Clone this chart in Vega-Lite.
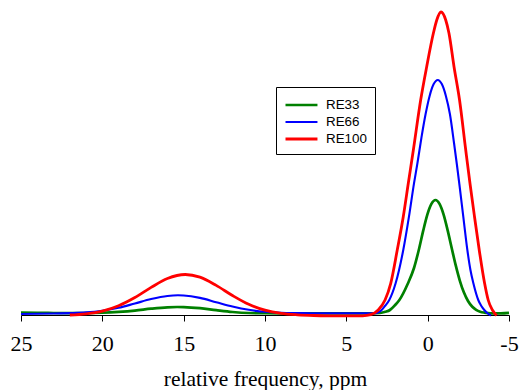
{
  "$schema": "https://vega.github.io/schema/vega-lite/v6.json",
  "width": 488,
  "height": 315,
  "autosize": "none",
  "padding": {"left": 21, "top": 0, "right": 10, "bottom": 75},
  "background": "white",
  "config": {"view": {"stroke": null}},
  "data": {"values": [
    {"s":"RE33","ppm":25,"h":2.3},{"s":"RE33","ppm":24,"h":2.1},{"s":"RE33","ppm":23,"h":2.0},{"s":"RE33","ppm":22,"h":1.9},{"s":"RE33","ppm":21,"h":1.9},{"s":"RE33","ppm":20,"h":2.25},{"s":"RE33","ppm":19,"h":3.1},{"s":"RE33","ppm":18,"h":4.4},{"s":"RE33","ppm":17,"h":6.3},{"s":"RE33","ppm":16,"h":7.7},{"s":"RE33","ppm":15.4,"h":8.0},{"s":"RE33","ppm":15,"h":7.9},{"s":"RE33","ppm":14,"h":6.8},{"s":"RE33","ppm":13,"h":4.8},{"s":"RE33","ppm":12,"h":3.0},{"s":"RE33","ppm":11,"h":2.0},{"s":"RE33","ppm":10,"h":1.8},{"s":"RE33","ppm":9,"h":1.7},{"s":"RE33","ppm":8,"h":1.7},{"s":"RE33","ppm":7,"h":1.7},{"s":"RE33","ppm":6,"h":1.7},{"s":"RE33","ppm":5,"h":1.7},{"s":"RE33","ppm":4,"h":1.7},{"s":"RE33","ppm":3.5,"h":1.6},{"s":"RE33","ppm":2.93,"h":2.0},{"s":"RE33","ppm":2.6,"h":3.2},{"s":"RE33","ppm":2.32,"h":5},{"s":"RE33","ppm":2.0,"h":10},{"s":"RE33","ppm":1.74,"h":15},{"s":"RE33","ppm":1.23,"h":31},{"s":"RE33","ppm":0.84,"h":47},{"s":"RE33","ppm":0.52,"h":66.8},{"s":"RE33","ppm":0.27,"h":84.6},{"s":"RE33","ppm":0.02,"h":100.4},{"s":"RE33","ppm":-0.23,"h":111.1},{"s":"RE33","ppm":-0.48,"h":115},{"s":"RE33","ppm":-0.73,"h":111.1},{"s":"RE33","ppm":-0.98,"h":100.4},{"s":"RE33","ppm":-1.23,"h":84.6},{"s":"RE33","ppm":-1.48,"h":66.8},{"s":"RE33","ppm":-1.73,"h":49.3},{"s":"RE33","ppm":-1.98,"h":34.2},{"s":"RE33","ppm":-2.23,"h":22.4},{"s":"RE33","ppm":-2.48,"h":14.0},{"s":"RE33","ppm":-2.73,"h":8.5},{"s":"RE33","ppm":-2.98,"h":5.2},{"s":"RE33","ppm":-3.23,"h":3.3},{"s":"RE33","ppm":-3.48,"h":2.4},{"s":"RE33","ppm":-3.73,"h":1.9},{"s":"RE33","ppm":-4.0,"h":1.7},{"s":"RE33","ppm":-4.5,"h":1.7},{"s":"RE33","ppm":-5,"h":2.2},
    {"s":"RE66","ppm":25,"h":1.0},{"s":"RE66","ppm":24,"h":1.2},{"s":"RE66","ppm":23,"h":1.5},{"s":"RE66","ppm":22,"h":1.9},{"s":"RE66","ppm":21,"h":2.6},{"s":"RE66","ppm":20,"h":4.3},{"s":"RE66","ppm":19,"h":7.2},{"s":"RE66","ppm":18,"h":11.5},{"s":"RE66","ppm":17,"h":15.9},{"s":"RE66","ppm":16,"h":19.0},{"s":"RE66","ppm":15.35,"h":19.7},{"s":"RE66","ppm":15,"h":19.5},{"s":"RE66","ppm":14,"h":17.1},{"s":"RE66","ppm":13,"h":12.8},{"s":"RE66","ppm":12,"h":8.5},{"s":"RE66","ppm":11,"h":5.2},{"s":"RE66","ppm":10,"h":3.2},{"s":"RE66","ppm":9,"h":2.2},{"s":"RE66","ppm":8,"h":1.9},{"s":"RE66","ppm":7,"h":1.7},{"s":"RE66","ppm":6,"h":1.7},{"s":"RE66","ppm":5,"h":1.7},{"s":"RE66","ppm":4,"h":1.7},{"s":"RE66","ppm":3.5,"h":1.8},{"s":"RE66","ppm":3.24,"h":1.8},{"s":"RE66","ppm":3.0,"h":3.0},{"s":"RE66","ppm":2.83,"h":5},{"s":"RE66","ppm":2.6,"h":9.5},{"s":"RE66","ppm":2.36,"h":15},{"s":"RE66","ppm":1.97,"h":31.7},{"s":"RE66","ppm":1.5,"h":65},{"s":"RE66","ppm":1.15,"h":98.3},{"s":"RE66","ppm":0.84,"h":131.7},{"s":"RE66","ppm":0.63,"h":151.7},{"s":"RE66","ppm":0.38,"h":177.6},{"s":"RE66","ppm":0.13,"h":200.7},{"s":"RE66","ppm":-0.12,"h":219.1},{"s":"RE66","ppm":-0.37,"h":230.9},{"s":"RE66","ppm":-0.62,"h":235},{"s":"RE66","ppm":-0.87,"h":230.9},{"s":"RE66","ppm":-1.12,"h":219.1},{"s":"RE66","ppm":-1.37,"h":200.7},{"s":"RE66","ppm":-1.62,"h":172},{"s":"RE66","ppm":-1.8,"h":150},{"s":"RE66","ppm":-1.97,"h":128},{"s":"RE66","ppm":-2.19,"h":98.3},{"s":"RE66","ppm":-2.44,"h":65},{"s":"RE66","ppm":-2.63,"h":45},{"s":"RE66","ppm":-2.81,"h":31.7},{"s":"RE66","ppm":-3.11,"h":15},{"s":"RE66","ppm":-3.3,"h":9},{"s":"RE66","ppm":-3.48,"h":5},{"s":"RE66","ppm":-3.7,"h":1.5},{"s":"RE66","ppm":-3.89,"h":-0.5},
    {"s":"RE100","ppm":22,"h":0},{"s":"RE100","ppm":21,"h":1.2},{"s":"RE100","ppm":20,"h":3.9},{"s":"RE100","ppm":19,"h":9.3},{"s":"RE100","ppm":18,"h":17.5},{"s":"RE100","ppm":17,"h":27.6},{"s":"RE100","ppm":16,"h":36.5},{"s":"RE100","ppm":14.9,"h":40.5},{"s":"RE100","ppm":14,"h":37.8},{"s":"RE100","ppm":13,"h":29.6},{"s":"RE100","ppm":12,"h":19.5},{"s":"RE100","ppm":11,"h":10.7},{"s":"RE100","ppm":10,"h":4.8},{"s":"RE100","ppm":9,"h":1.6},{"s":"RE100","ppm":8,"h":0.2},{"s":"RE100","ppm":7,"h":-0.5},{"s":"RE100","ppm":6,"h":-0.8},{"s":"RE100","ppm":5,"h":-0.9},{"s":"RE100","ppm":4,"h":-0.8},{"s":"RE100","ppm":3.5,"h":0.3},{"s":"RE100","ppm":3.04,"h":5},{"s":"RE100","ppm":2.62,"h":15},{"s":"RE100","ppm":2.27,"h":31.7},{"s":"RE100","ppm":1.87,"h":65},{"s":"RE100","ppm":1.5,"h":98.3},{"s":"RE100","ppm":1.19,"h":131.7},{"s":"RE100","ppm":0.88,"h":165},{"s":"RE100","ppm":0.43,"h":215},{"s":"RE100","ppm":0.06,"h":248.3},{"s":"RE100","ppm":-0.35,"h":281.7},{"s":"RE100","ppm":-0.56,"h":295},{"s":"RE100","ppm":-0.82,"h":303},{"s":"RE100","ppm":-1.11,"h":295},{"s":"RE100","ppm":-1.31,"h":281.7},{"s":"RE100","ppm":-1.62,"h":248.3},{"s":"RE100","ppm":-1.96,"h":215},{"s":"RE100","ppm":-2.34,"h":165},{"s":"RE100","ppm":-2.6,"h":131.7},{"s":"RE100","ppm":-2.88,"h":98.3},{"s":"RE100","ppm":-3.17,"h":65},{"s":"RE100","ppm":-3.5,"h":31.7},{"s":"RE100","ppm":-3.72,"h":15},{"s":"RE100","ppm":-3.98,"h":5},{"s":"RE100","ppm":-4.24,"h":-0.5}
  ]},
  "mark": {"type": "line", "interpolate": "monotone", "clip": false},
  "encoding": {
    "x": {
      "field": "ppm", "type": "quantitative",
      "scale": {"domain": [-5, 25], "reverse": true, "nice": false, "zero": false},
      "axis": {
        "title": "relative frequency, ppm",
        "values": [25, 20, 15, 10, 5, 0, -5],
        "grid": false,
        "domainColor": "#000", "domainWidth": 1,
        "tickColor": "#000", "tickSize": 6, "tickWidth": 1,
        "labelFont": "'Liberation Serif', 'Times New Roman', serif", "labelFontSize": 22, "labelColor": "#000",
        "labelBaseline": "alphabetic", "labelPadding": 29,
        "labelExpr": "datum.value + ''",
        "labelFlush": false, "labelOverlap": false,
        "titleFont": "'Liberation Serif', 'Times New Roman', serif", "titleFontSize": 21.5, "titleFontWeight": "normal", "titleColor": "#000",
        "titleBaseline": "alphabetic", "titleY": 70
      }
    },
    "y": {
      "field": "h", "type": "quantitative",
      "scale": {"domain": [0, 315], "nice": false, "zero": false},
      "axis": null
    },
    "order": {"field": "ppm", "sort": "descending"},
    "strokeWidth": {
      "field": "s", "type": "nominal",
      "scale": {"type": "ordinal", "domain": ["RE33", "RE66", "RE100"], "range": [2.7, 2.1, 2.8]},
      "legend": null
    },
    "color": {
      "field": "s", "type": "nominal",
      "scale": {"domain": ["RE33", "RE66", "RE100"], "range": ["#008000", "#0000ff", "#ff0000"]},
      "legend": {
        "title": null, "orient": "none", "legendX": 255, "legendY": 87,
        "strokeColor": "#000", "fillColor": "#fff", "padding": 8,
        "symbolType": "M-1,0H2.76", "symbolSize": 289, "symbolStrokeWidth": 2.5,
        "labelFont": "'Liberation Sans', Arial, sans-serif", "labelFontSize": 13.4, "labelColor": "#000",
        "labelOffset": 22, "rowPadding": 0, "labelLimit": 200,
        "encode": {"symbols": {"update": {"strokeWidth": {"signal": "datum.label === 'RE66' ? 1.8 : 2.6"}}}}
      }
    }
  }
}
